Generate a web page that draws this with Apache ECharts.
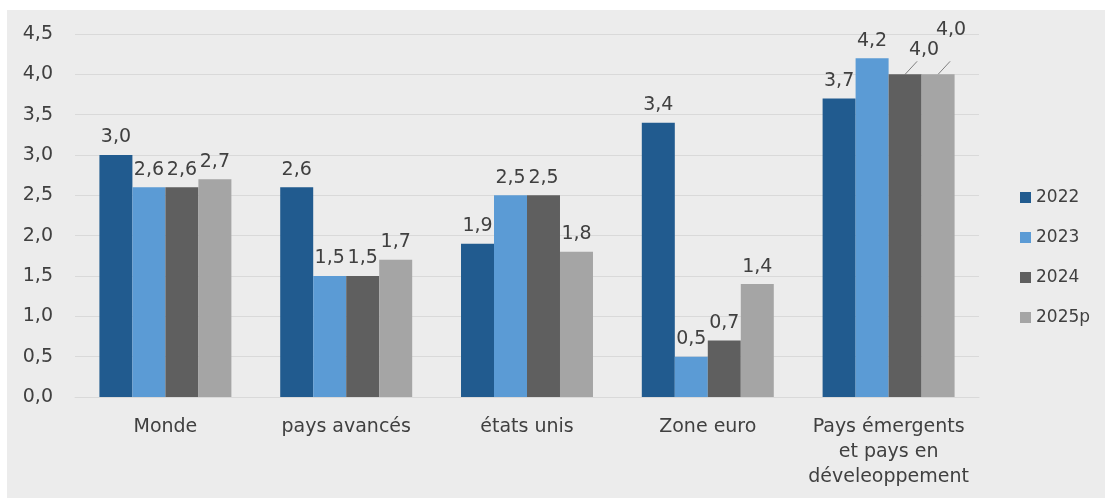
<!DOCTYPE html>
<html>
<head>
<meta charset="utf-8">
<script src="https://cdn.jsdelivr.net/npm/echarts@6/dist/echarts.min.js"></script>
<style>
  html, body { margin:0; padding:0; background:#ffffff; }
  #chart { position:absolute; left:7px; top:10px; width:1098px; height:488px; background:#ececec; }
</style>
</head>
<body>
<div id="chart"></div>
<script>
// categories et valeurs
var categories = ['Monde', 'pays avancés', 'états unis', 'Zone euro', 'Pays émergents\net pays en\ndéveleoppement'];
var yearNames = ['2022', '2023', '2024', '2025p'];
var v2022 = [3.0, 2.6, 1.9, 3.4, 3.7];
var v2023 = [2.6, 1.5, 2.5, 0.5, 4.2];
var v2024 = [2.6, 1.5, 2.5, 0.7, 4.0];
var v2025 = [2.7, 1.7, 1.8, 1.4, 4.0];
var colors = ['#215b8f', '#5b9bd5', '#5f5f5f', '#a5a5a5'];

var txt = '#404040';
var fnt = 'DejaVu Sans';
var gapRatio = 0.27;

function fmt(v){ return v.toFixed(1).replace('.', ','); }

function makeSeries(name, data, color, moved){
    var s = {
        name: name, type: 'bar', data: data, barGap: '0%', barCategoryGap: (gapRatio*100)+'%',
        itemStyle: {color: color},
        label: {show: true, position: 'top', distance: 8, color: txt, fontFamily: fnt, fontSize: 19,
                formatter: function(p){ return fmt(p.value); }}
    };
    if (moved) {
        // les deux derniers 4,0 sont décalés
        s.labelLayout = function(p){
            if (p.dataIndex == 4) return {dx: moved[0], dy: moved[1]};
            return {};
        };
    }
    return s;
}

var chart = echarts.init(document.getElementById('chart'));
chart.setOption({
    backgroundColor: '#ececec',
    animation: false,
    textStyle: {fontFamily: fnt},
    grid: {left: 68, right: 126, top: 24, bottom: 101},
    legend: {
        orient: 'vertical', left: 1008, top: 174, itemGap: 23,
        itemWidth: 11, itemHeight: 11, icon: 'rect',
        textStyle: {color: txt, fontSize: 17, fontFamily: fnt},
        data: yearNames
    },
    xAxis: {
        type: 'category', data: categories,
        axisTick: {show: false},
        axisLine: {lineStyle: {color: '#d9d9d9'}},
        axisLabel: {color: txt, fontSize: 19, fontFamily: fnt, margin: 18, lineHeight: 25, interval: 0}
    },
    yAxis: {
        type: 'value', min: 0, max: 4.5, interval: 0.5,
        axisLine: {show: false}, axisTick: {show: false},
        splitLine: {lineStyle: {color: '#d9d9d9'}},
        axisLabel: {color: txt, fontSize: 19, fontFamily: fnt, margin: 22, formatter: function(v){ return fmt(v); }}
    },
    series: [
        makeSeries(yearNames[0], v2022, colors[0]),
        makeSeries(yearNames[1], v2023, colors[1]),
        makeSeries(yearNames[2], v2024, colors[2], [19, -7]),
        makeSeries(yearNames[3], v2025, colors[3], [13, -27])
    ]
});

// traits de rappel pour les étiquettes décalées (positions via les échelles)
var c0 = chart.convertToPixel('grid', [4, 0]);
var c1 = chart.convertToPixel('grid', [3, 0]);
var band = c0[0] - c1[0];
var barW = band * (1 - gapRatio) / 4;
var leaders = [[2, v2024[4]], [3, v2025[4]]];
var lines = leaders.map(function(d){
    var top = chart.convertToPixel('grid', [4, d[1]]);
    var x = top[0] + (d[0] - 1.5) * barW;
    return {type: 'line', silent: true,
            shape: {x1: x, y1: top[1], x2: x + 12, y2: top[1] - 13},
            style: {stroke: '#7f7f7f', lineWidth: 1}};
});
chart.setOption({graphic: lines});
</script>
</body>
</html>
